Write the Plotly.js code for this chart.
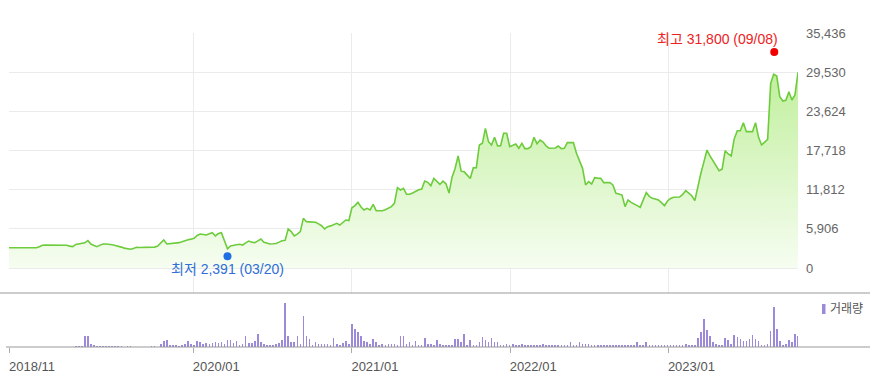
<!DOCTYPE html>
<html>
<head>
<meta charset="utf-8">
<script src="https://cdn.plot.ly/plotly-3.0.1.min.js"></script>
<style>html,body{margin:0;padding:0;background:#fff;}#chart{width:870px;height:384px;}</style>
</head>
<body>
<div id="chart"></div>
<script>
// ---- data (weekly closes, Fridays) ----
const startDate = '2018-11-02';
const weekCount = 261;

const price = [
3060,3060,3060,3000,2970,2970,2970,2970,2970,3060,
3200,3420,3470,3470,3500,3470,3470,3500,3470,3420,
3300,3220,3550,3620,3650,3800,4120,3620,3400,3220,
3450,3620,3620,3600,3500,3400,3320,3150,3000,2900,
2820,2950,3120,3100,3120,3150,3120,3120,3150,3300,
3700,4220,3620,3650,3720,3750,3820,3950,4150,4250,
4350,4470,4900,5130,5050,4980,5150,5330,4830,5200,
5330,4100,2900,3320,3450,3500,3570,3450,3800,4070,
3900,3820,4100,4370,3870,3750,3620,3650,3700,3900,
4120,4170,5880,5480,4830,5100,5480,7490,6980,6950,
6950,6900,6650,6380,5880,6230,6350,6500,6740,6480,
6800,7240,7150,9090,9400,9900,9200,8750,9000,8750,
9600,8640,8640,8640,8800,9000,9250,9750,12110,11760,
12020,11110,11110,11300,11610,11800,11910,13120,12920,12400,
13500,13100,12600,13100,12700,11300,13700,15000,16900,14600,
14500,14000,13500,15100,15130,18550,18800,21060,19050,18550,
19710,18400,18450,20310,20310,18300,18500,18700,18050,18800,
18000,18000,18300,19710,18750,19300,19000,18400,18050,18050,
18100,18400,18000,18050,18900,18900,18900,17290,16000,15030,
12520,13020,12670,13620,13550,13520,12870,12900,12900,12520,
11260,11160,11000,9250,10250,9900,9700,9400,9150,10200,
11360,10800,10500,10400,10250,9850,9400,10100,10500,10660,
10700,10700,11100,11660,11300,10900,10150,12300,14280,16000,
17790,16900,16100,15400,14680,14900,17690,17200,16890,19500,
20700,20700,21910,20560,20560,20560,21910,19710,18550,19000,
19410,27850,29210,28950,25830,25180,25300,26590,25330,26090,
29510
];

const volume = [
0,0,0,0,0,0,0,0,0,0,
0,0,0,0,0,0,0,0,0,0,
0,0,10,10,10,110,110,33,23,10,
10,10,10,10,10,10,10,10,0,10,
10,0,0,0,0,0,0,10,10,0,
33,60,73,23,23,23,10,17,27,60,
27,17,60,50,33,43,33,40,50,40,
50,27,73,73,43,60,17,33,110,40,
40,60,133,50,27,23,23,17,27,40,
73,443,110,50,50,110,30,310,110,77,
23,50,33,27,33,33,23,90,33,23,
40,60,33,233,177,150,110,60,50,33,
77,50,23,33,23,33,33,33,23,110,
110,33,50,23,60,23,23,90,33,33,
17,73,33,23,23,23,23,77,77,50,
133,23,73,23,23,50,100,73,50,90,
50,50,23,23,33,23,33,23,23,33,
23,23,23,23,23,23,33,17,17,17,
17,17,17,17,23,50,23,23,50,33,
33,33,23,23,17,17,23,17,17,23,
17,17,17,23,17,17,17,50,23,23,
50,23,17,17,17,17,17,17,17,17,
17,17,23,33,23,17,23,90,150,277,
167,110,50,33,23,23,90,73,33,123,
100,77,60,60,83,123,83,60,23,23,
33,160,400,177,60,17,33,73,50,133,
110
];

const xTickVals = ['2018-11-02', '2020-01-01', '2021-01-01', '2022-01-01', '2023-01-01'];
const xTickText = ['2018/11', '2020/01', '2021/01', '2022/01', '2023/01'];
const yTickVals = [0, 5906, 11812, 17718, 23624, 29530, 35436];

const lowPoint = {date: '2020-03-20', value: 2391, label: '최저 2,391 (03/20)'};
const highPoint = {date: '2023-09-08', value: 31800, label: '최고 31,800 (09/08)'};
const volumeLabel = '거래량';

// ---- build weekly dates ----
const dates = [];
{
  const p = startDate.split('-').map(Number);
  const t0 = Date.UTC(p[0], p[1] - 1, p[2]);
  for (let i = 0; i < weekCount; i++) {
    const d = new Date(t0 + i * 7 * 86400000);
    dates.push(d.toISOString().slice(0, 10));
  }
}

const FONT = 'Liberation Sans, Arial, "Noto Sans CJK KR", sans-serif';

// plot area geometry (px): left 9, right 798, top 33, split 293, bottom 347
const W = 870, H = 384, L = 9, R = 798, T = 33, B = 347, SPLIT = 293;
const pw = R - L, ph = B - T;
const px2paperX = x => (x - L) / pw;
const px2paperY = y => (B - y) / ph;
const split = px2paperY(SPLIT);

const traces = [
  {
    type: 'scatter', mode: 'lines', x: dates, y: price,
    xaxis: 'x', yaxis: 'y',
    line: {color: '#6dcc3c', width: 1.6},
    fill: 'tozeroy',
    fillgradient: {type: 'vertical', start: 0, stop: 30000,
      colorscale: [[0, 'rgb(246,253,241)'], [1, 'rgb(192,239,156)']]},
    hoverinfo: 'skip'
  },
  {
    type: 'bar', x: dates, y: volume, xaxis: 'x2', yaxis: 'y2',
    width: 3.6 * 86400000,
    marker: {color: '#9d89d9', line: {width: 0}},
    hoverinfo: 'skip'
  }
];

// extreme-point dots: anchored at the data value, drawn slightly outside the line (pixel offsets)
function dot(pt, color, dx, dy) {
  return {type: 'circle', xref: 'x', yref: 'y', xsizemode: 'pixel', ysizemode: 'pixel',
    xanchor: pt.date, yanchor: pt.value,
    x0: dx - 4, x1: dx + 4, y0: dy - 4, y1: dy + 4,
    fillcolor: color, line: {width: 0}};
}

const layout = {
  width: W, height: H,
  margin: {l: L, r: W - R, t: T, b: H - B, pad: 0},
  paper_bgcolor: '#fff', plot_bgcolor: 'rgba(0,0,0,0)',
  showlegend: false,
  font: {family: FONT, size: 13, color: '#555'},
  bargap: 0,
  xaxis: {
    type: 'date', range: [dates[0], dates[dates.length - 1]], domain: [0, 1], anchor: 'y',
    tickvals: xTickVals, showticklabels: false, ticks: '',
    showgrid: true, gridcolor: '#ebebeb', gridwidth: 1, zeroline: false, showline: false
  },
  yaxis: {
    domain: [split, 1], range: [-3770, 35436], side: 'right', anchor: 'x',
    tickvals: yTickVals, tickformat: ',d', ticks: '',
    showgrid: true, gridcolor: '#ebebeb', gridwidth: 1, zeroline: false, showline: false,
    tickfont: {family: FONT, size: 13, color: '#666'}, ticklabelstandoff: 7
  },
  xaxis2: {
    type: 'date', matches: 'x', anchor: 'y2',
    tickvals: xTickVals, ticktext: xTickText,
    ticks: 'outside', ticklen: 5, tickcolor: '#aaa', tickwidth: 1,
    showgrid: false, zeroline: false, showline: false,
    tickfont: {family: FONT, size: 13, color: '#555'},
    ticklabelshift: 23, ticklabelstandoff: 2
  },
  yaxis2: {
    domain: [0, split], range: [0, 540], anchor: 'x2',
    showticklabels: false, showgrid: false, zeroline: false, showline: false, ticks: ''
  },
  shapes: [
    {type: 'line', xref: 'paper', yref: 'paper', x0: px2paperX(0), x1: px2paperX(W), y0: split, y1: split,
     line: {color: '#9a9a9a', width: 1.2}},
    {type: 'line', xref: 'paper', yref: 'paper', x0: px2paperX(6), x1: px2paperX(W), y0: 0, y1: 0,
     line: {color: '#9a9a9a', width: 1.2}},
    {type: 'rect', xref: 'paper', yref: 'paper', x0: px2paperX(822), x1: px2paperX(825.5),
     y0: px2paperY(314), y1: px2paperY(304), fillcolor: '#9d89d9', line: {width: 0}},
    dot(lowPoint, '#1f6fe5', 0, -4),
    dot(highPoint, '#f00000', -2.5, 5)
  ],
  annotations: [
    {x: lowPoint.date, y: lowPoint.value, xref: 'x', yref: 'y', text: lowPoint.label,
     showarrow: false, xanchor: 'center', yanchor: 'middle', yshift: -17,
     font: {family: FONT, size: 14, color: '#2f6fd6'}},
    {x: highPoint.date, y: highPoint.value, xref: 'x', yref: 'y', text: highPoint.label,
     showarrow: false, xanchor: 'right', yanchor: 'middle', xshift: 3, yshift: 18,
     font: {family: FONT, size: 14, color: '#ee2222'}},
    {x: px2paperX(828), y: px2paperY(309), xref: 'paper', yref: 'paper', text: volumeLabel,
     showarrow: false, xanchor: 'left', yanchor: 'middle',
     font: {family: FONT, size: 12, color: '#555'}}
  ]
};

Plotly.newPlot('chart', traces, layout, {staticPlot: true, displayModeBar: false});
</script>
</body>
</html>
